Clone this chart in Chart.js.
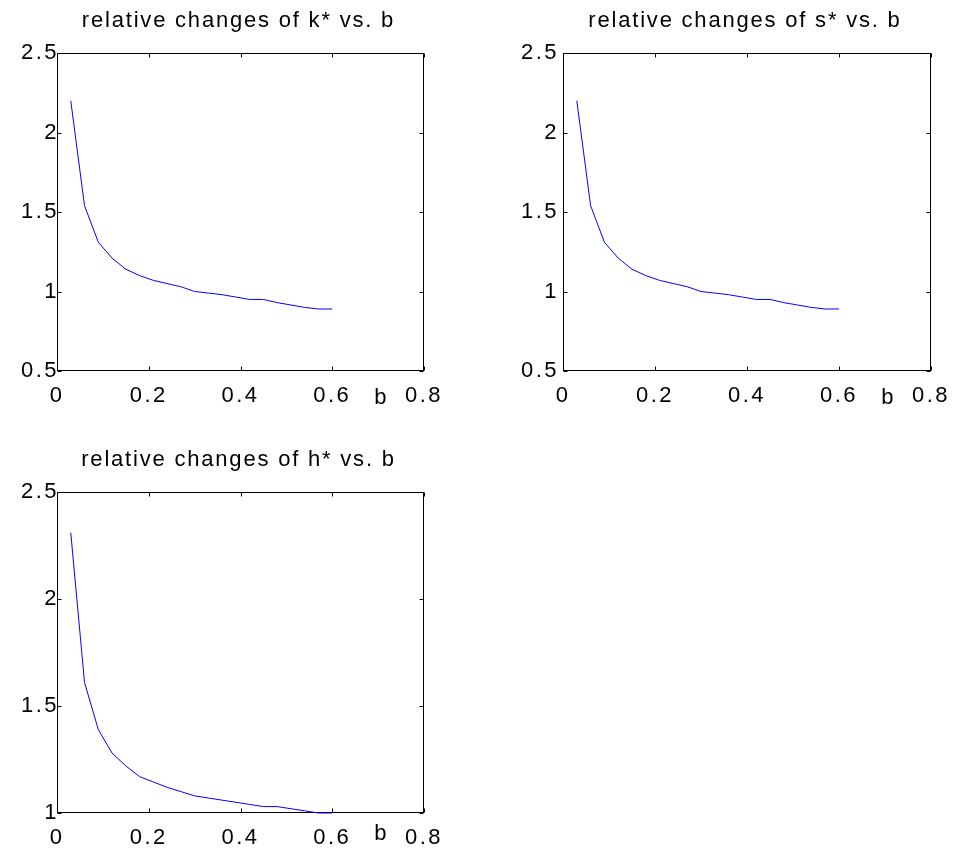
<!DOCTYPE html>
<html>
<head>
<meta charset="utf-8">
<title>relative changes vs. b</title>
<script src="https://cdn.jsdelivr.net/npm/chart.js@4.4.1/dist/chart.umd.min.js"></script>
<style>
  html, body { margin: 0; padding: 0; background: #fff; }
  body { width: 957px; height: 852px; position: relative; overflow: hidden; }
  canvas { position: absolute; }
</style>
</head>
<body>
<canvas id="chartK" width="450" height="412" style="left:0;top:0"></canvas>
<canvas id="chartS" width="477" height="412" style="left:480px;top:0"></canvas>
<canvas id="chartH" width="450" height="430" style="left:0;top:422px"></canvas>
<script>
// b values shared by the three panels
const bValues = [0.03, 0.06, 0.09, 0.12, 0.15, 0.18, 0.21, 0.24, 0.27, 0.30,
                 0.33, 0.36, 0.39, 0.42, 0.45, 0.48, 0.51, 0.54, 0.57, 0.60];

// relative changes
const kChange = [2.20, 1.54, 1.31, 1.21, 1.14, 1.10, 1.07, 1.05, 1.03, 1.00,
                 0.99, 0.98, 0.965, 0.95, 0.95, 0.93, 0.915, 0.90, 0.89, 0.89];
const sChange = [2.20, 1.54, 1.31, 1.21, 1.14, 1.10, 1.07, 1.05, 1.03, 1.00,
                 0.99, 0.98, 0.965, 0.95, 0.95, 0.93, 0.915, 0.90, 0.89, 0.89];
const hChange = [2.31, 1.61, 1.39, 1.28, 1.22, 1.17, 1.145, 1.12, 1.10, 1.08,
                 1.07, 1.06, 1.05, 1.04, 1.03, 1.03, 1.02, 1.01, 1.00, 1.00];

// axis ticks
const xTicks = [0, 0.2, 0.4, 0.6, 0.8];
const yTicksKS = [0.5, 1, 1.5, 2, 2.5];
const yTicksH = [1, 1.5, 2, 2.5];

const titleK = 'relative changes of k* vs. b';
const titleS = 'relative changes of s* vs. b';
const titleH = 'relative changes of h* vs. b';
const xAxisName = 'b';

const FONT_FAMILY = '"Liberation Sans", Arial, Helvetica, sans-serif';
const FONT_SIZE = 22;
const TICK_SPACING = '2.5px';
const TITLE_SPACING = '1.8px';

/**
 * Matlab-like frame: box round the plot area, inward ticks on all four sides,
 * title above and the x axis name between the last two tick labels.
 */
const matlabFrame = {
    id: 'matlabFrame',
    beforeUpdate(chart) {
        chart.ctx.letterSpacing = TICK_SPACING;
    },
    beforeDraw(chart) {
        chart.ctx.letterSpacing = TICK_SPACING;
    },
    beforeDatasetsDraw(chart) {
        const { ctx, chartArea: a, scales: { x, y } } = chart;
        const L = Math.round(a.left) + 0.5, R = Math.round(a.right) - 0.5;
        const T = Math.round(a.top) + 0.5, B = Math.round(a.bottom) - 0.5;
        const tick = 4;
        ctx.save();
        ctx.strokeStyle = '#000';
        ctx.lineWidth = 1;
        ctx.strokeRect(L, T, R - L, B - T);
        ctx.beginPath();
        x.ticks.forEach(t => {
            const px = Math.round(x.getPixelForValue(t.value)) + 0.5;
            ctx.moveTo(px, B); ctx.lineTo(px, B - tick);
            ctx.moveTo(px, T); ctx.lineTo(px, T + tick);
        });
        y.ticks.forEach(t => {
            const py = Math.round(y.getPixelForValue(t.value)) + 0.5;
            ctx.moveTo(L, py); ctx.lineTo(L + tick, py);
            ctx.moveTo(R, py); ctx.lineTo(R - tick, py);
        });
        ctx.stroke();
        ctx.restore();
    },
    afterDraw(chart, args, opts) {
        const { ctx, chartArea: a, scales: { x } } = chart;
        ctx.save();
        ctx.fillStyle = '#000';
        ctx.textBaseline = 'alphabetic';
        ctx.textAlign = 'center';
        ctx.font = FONT_SIZE + 'px ' + FONT_FAMILY;

        // title
        ctx.letterSpacing = TITLE_SPACING;
        ctx.fillText(opts.title, (a.left + a.right) / 2 - 2, a.top - 26);

        // x axis name, sits between 0.6 and 0.8
        ctx.letterSpacing = '0px';
        ctx.fillText(xAxisName, x.getPixelForValue(0.705), a.bottom + opts.nameOffset);
        ctx.restore();
    }
};

function noOverhang(s) {
    s.paddingLeft = 0;
    s.paddingRight = 0;
    s.paddingTop = 0;
    s.paddingBottom = 0;
}

function makeChart(id, values, yTicks, layout) {
    const ctx = document.getElementById(id);
    return new Chart(ctx, {
        type: 'line',
        data: {
            datasets: [{
                data: bValues.map((b, i) => ({ x: b, y: values[i] })),
                borderColor: '#0000ff',
                borderWidth: 1,
                tension: 0,
                pointRadius: 0,
                fill: false,
                clip: false
            }]
        },
        options: {
            responsive: false,
            animation: false,
            events: [],
            layout: {
                padding: { left: 0, top: layout.top, right: 26, bottom: 0 }
            },
            plugins: {
                legend: { display: false },
                tooltip: { enabled: false },
                title: { display: false },
                matlabFrame: { title: layout.title, nameOffset: layout.nameOffset }
            },
            scales: {
                x: {
                    type: 'linear',
                    min: xTicks[0],
                    max: xTicks[xTicks.length - 1],
                    afterBuildTicks: s => { s.ticks = xTicks.map(v => ({ value: v })); },
                    afterFit: s => { s.height = layout.xHeight; noOverhang(s); },
                    grid: { display: false, drawTicks: false },
                    border: { display: false },
                    ticks: {
                        color: '#000',
                        padding: 12,
                        maxRotation: 0,
                        autoSkip: false,
                        font: { family: FONT_FAMILY, size: FONT_SIZE },
                        callback: v => String(v)
                    }
                },
                y: {
                    type: 'linear',
                    min: yTicks[0],
                    max: yTicks[yTicks.length - 1],
                    afterBuildTicks: s => { s.ticks = yTicks.map(v => ({ value: v })); },
                    afterFit: s => { s.width = layout.yWidth; noOverhang(s); },
                    grid: { display: false, drawTicks: false },
                    border: { display: false },
                    ticks: {
                        color: '#000',
                        padding: layout.yPad,
                        autoSkip: false,
                        font: { family: FONT_FAMILY, size: FONT_SIZE },
                        callback: v => String(v)
                    }
                }
            }
        },
        plugins: [matlabFrame]
    });
}

makeChart('chartK', kChange, yTicksKS,
    { title: titleK, top: 53, xHeight: 41, yWidth: 57, yPad: -2, nameOffset: 33 });
makeChart('chartS', sChange, yTicksKS,
    { title: titleS, top: 53, xHeight: 41, yWidth: 83, yPad: 4, nameOffset: 33 });
makeChart('chartH', hChange, yTicksH,
    { title: titleH, top: 70, xHeight: 39, yWidth: 57, yPad: -2, nameOffset: 27 });
</script>
</body>
</html>
